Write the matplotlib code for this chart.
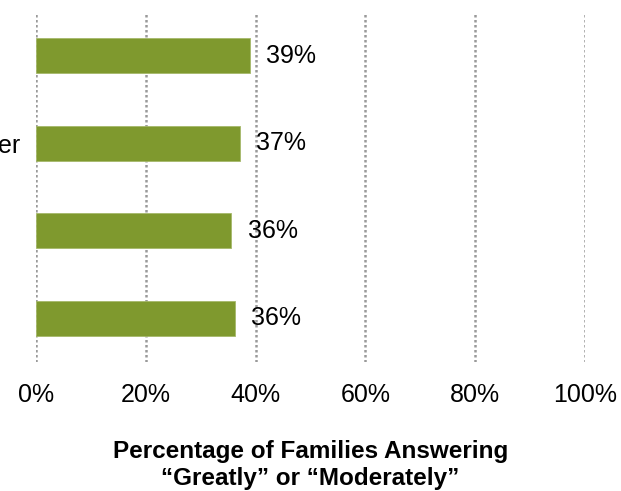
import matplotlib
matplotlib.use("Agg")
import matplotlib.pyplot as plt
from matplotlib.ticker import FuncFormatter

# survey rows, top to bottom (only the tail of one row label fits on the canvas)
categories = ["", "er", "", ""]
pct_values = [38.9, 37.1, 35.6, 36.2]
x_ticks = [0, 20, 40, 60, 80, 100]

BAR_COLOR = "#7f992e"
GRID_COLOR = "#9a9a9a"

plt.rcParams["font.family"] = ["Liberation Sans", "DejaVu Sans"]

fig = plt.figure(figsize=(6.21, 4.91), dpi=100)
# axes box in pixels: left 36, right 585, top 12, bottom 362
ax = fig.add_axes([36 / 621, 1 - 362 / 491, (585 - 36) / 621, (362 - 12) / 491])

ypos = list(range(len(categories)))
ax.barh(ypos, pct_values, height=0.4, color=BAR_COLOR, edgecolor="#a5b86a",
        linewidth=0.6, zorder=3)

for y, v in zip(ypos, pct_values):
    ax.annotate(f"{v:.0f}%", xy=(v, y), xytext=(12, 0), textcoords="offset points",
                ha="left", va="center", fontsize=18, color="black", zorder=4)

ax.set_xlim(0, 100)
ax.set_ylim(len(categories) - 0.5, -0.5)
ax.set_xticks(x_ticks)
ax.xaxis.set_major_formatter(FuncFormatter(lambda v, _: f"{v:.0f}%"))
ax.set_yticks(ypos)
ax.set_yticklabels(categories)
ax.tick_params(axis="x", length=0, pad=15, labelsize=18)
ax.tick_params(axis="y", length=0, pad=11, labelsize=18)

for s in ax.spines.values():
    s.set_visible(False)
for xv in x_ticks:
    ax.axvline(xv, color=GRID_COLOR, linestyle=(0, (1, 1)), linewidth=1.8, zorder=1)

ax.set_xlabel("Percentage of Families Answering\n\u201cGreatly\u201d or \u201cModerately\u201d",
              fontsize=17.5, fontweight="bold", labelpad=24, linespacing=1.22)

fig.savefig("out.png", dpi=100)
